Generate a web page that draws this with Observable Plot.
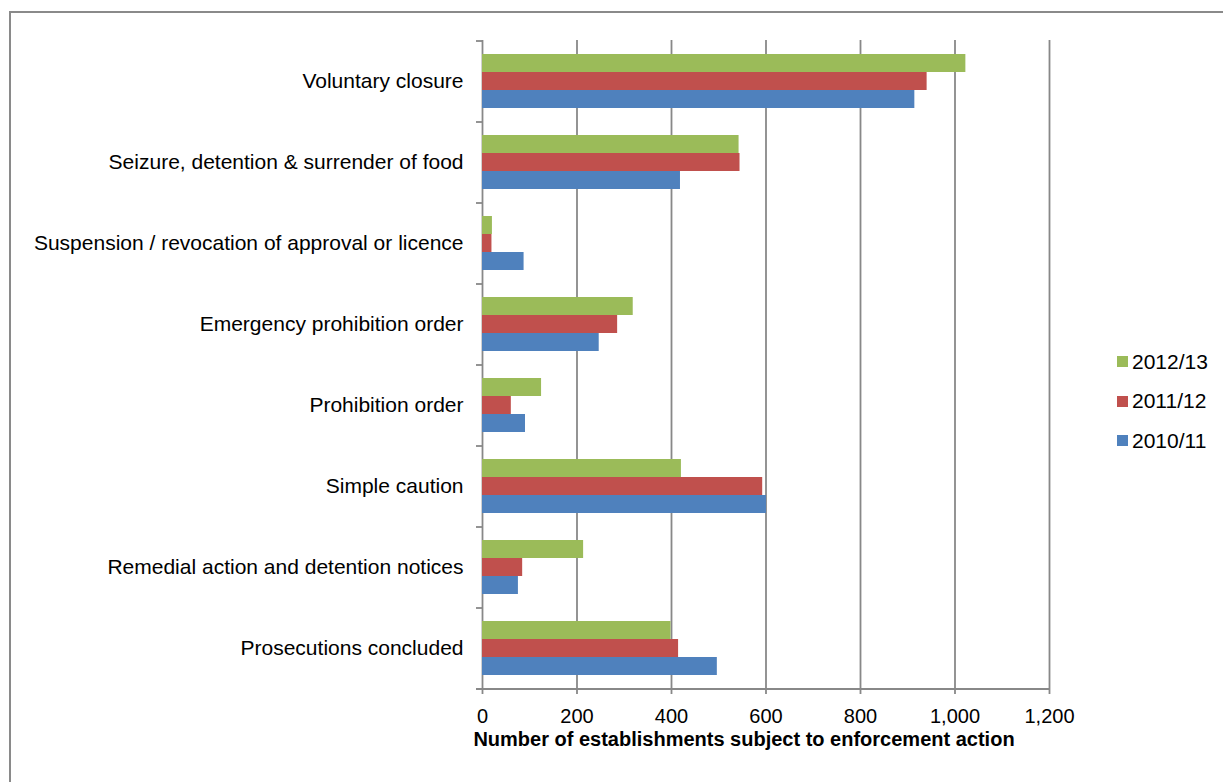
<!DOCTYPE html>
<html>
<head>
<meta charset="utf-8">
<script src="https://cdn.jsdelivr.net/npm/d3@7"></script>
<script src="https://cdn.jsdelivr.net/npm/@observablehq/plot@0.6"></script>
<style>
  html, body { margin: 0; padding: 0; background: #fff; overflow: hidden; }
  body { width: 1223px; height: 782px; position: relative; font-family: "Liberation Sans", Arial, sans-serif; }
  #border { position: absolute; left: 9px; top: 11px; width: 1400px; height: 1000px; border: 2px solid #8a8a8a; box-sizing: border-box; }
  #chart { position: absolute; left: 0; top: 0; }
  #xtitle { position: absolute; left: 444px; width: 600px; top: 728px; line-height: 23px; text-align: center; font-weight: bold; font-size: 20px; color: #000; white-space: nowrap; }
  #legend { position: absolute; left: 1117px; top: 342px; font-size: 21px; color: #000; }
  #legend .row { display: flex; align-items: center; height: 39.5px; }
  #legend .sw { width: 11px; height: 11px; margin-right: 4px; }
</style>
</head>
<body>
<div id="border"></div>
<div id="chart"></div>
<div id="xtitle">Number of establishments subject to enforcement action</div>
<div id="legend"></div>
<script>
const categories = [
  "Voluntary closure",
  "Seizure, detention & surrender of food",
  "Suspension / revocation of approval or licence",
  "Emergency prohibition order",
  "Prohibition order",
  "Simple caution",
  "Remedial action and detention notices",
  "Prosecutions concluded"
];
const seriesNames = ["2012/13", "2011/12", "2010/11"];
const values2012 = [1023, 543, 21, 319, 125, 421, 214, 399];
const values2011 = [941, 545, 20, 286, 61, 593, 85, 415];
const values2010 = [915, 419, 88, 247, 91, 601, 76, 497];
const seriesColors = ["#9BBB59", "#C0504D", "#4F81BD"];
const xTicks = [0, 200, 400, 600, 800, 1000, 1200];

const seriesValues = [values2012, values2011, values2010];
const rows = [];
categories.forEach((c, i) => {
  seriesNames.forEach((s, j) => rows.push({category: c, series: s, value: seriesValues[j][i]}));
});

const gridColor = "#888888";

const plot = Plot.plot({
  width: 1223,
  height: 782,
  marginLeft: 482,
  marginRight: 174,
  marginTop: 40,
  marginBottom: 94,
  style: {fontFamily: "'Liberation Sans', Arial, sans-serif", fontSize: "20px", color: "#000", background: "transparent"},
  x: {domain: [0, 1200], axis: null},
  y: {domain: seriesNames, paddingInner: 0, paddingOuter: 0.75, axis: null},
  fy: {domain: categories, padding: 0, axis: null},
  color: {domain: seriesNames, range: seriesColors},
  marks: [
    Plot.ruleX(xTicks, {stroke: gridColor, strokeWidth: 1.8}),
    Plot.barX(rows, {fy: "category", y: "series", x: "value", fill: "series"}),
    // category separator ticks at the top of each band
    Plot.ruleY(categories, {fy: d => d, y: () => seriesNames[0], x1: 0, x2: 0, insetLeft: -6, dy: -22.5, stroke: gridColor, strokeWidth: 1.8}),
    // bottom axis line
    Plot.ruleY([categories[categories.length - 1]], {fy: d => d, y: () => seriesNames[2], x1: 0, x2: 1200, insetLeft: -6, dy: 22.5, stroke: gridColor, strokeWidth: 1.8}),
    Plot.axisFy({anchor: "left", tickSize: 0, tickPadding: 19, fontSize: 21, label: null}),
    Plot.axisX({anchor: "bottom", ticks: xTicks, tickFormat: d3.format(","), tickSize: 6, tickPadding: 14, fontSize: 20, stroke: gridColor, strokeWidth: 1.8, label: null})
  ]
});
document.getElementById("chart").appendChild(plot);

const legend = document.getElementById("legend");
seriesNames.forEach((s, j) => {
  const row = document.createElement("div");
  row.className = "row";
  const sw = document.createElement("div");
  sw.className = "sw";
  sw.style.background = seriesColors[j];
  const t = document.createElement("span");
  t.textContent = s;
  row.appendChild(sw);
  row.appendChild(t);
  legend.appendChild(row);
});
</script>
</body>
</html>
